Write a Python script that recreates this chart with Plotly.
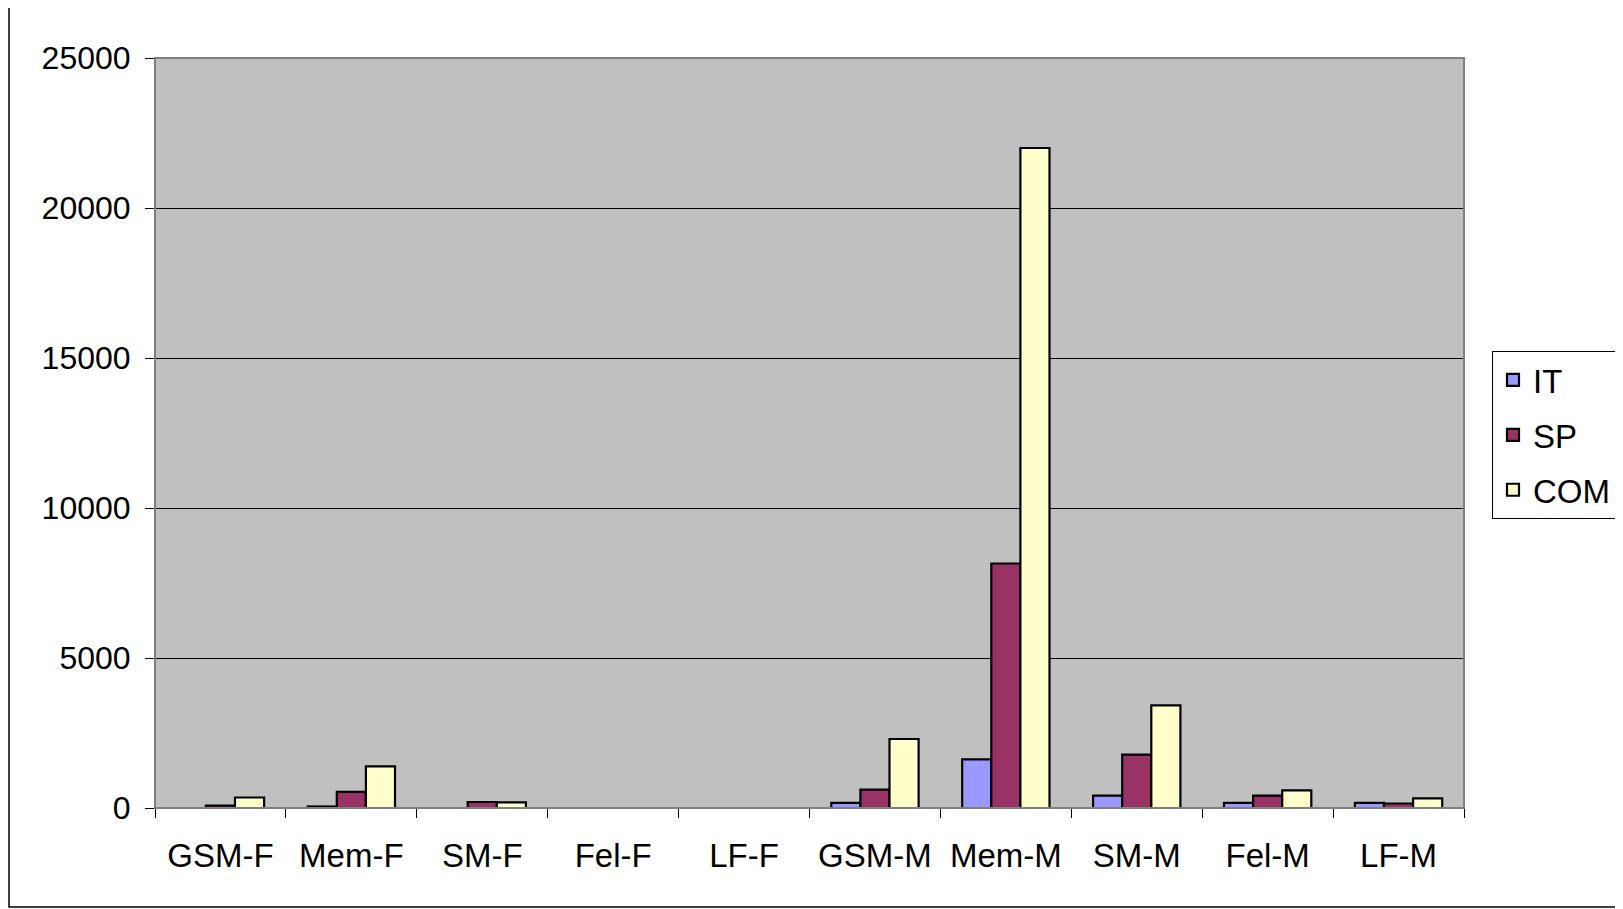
import plotly.graph_objects as go

categories = ["GSM-F", "Mem-F", "SM-F", "Fel-F", "LF-F", "GSM-M", "Mem-M", "SM-M", "Fel-M", "LF-M"]
it_values = [0, 50, 0, 0, 0, 170, 1620, 410, 170, 170]
sp_values = [80, 540, 200, 0, 0, 610, 8150, 1780, 410, 150]
com_values = [350, 1390, 190, 0, 0, 2300, 22000, 3420, 590, 320]
y_ticks = [0, 5000, 10000, 15000, 20000, 25000]

FONT = "Liberation Sans, Arial, sans-serif"
OFF = 8  # page offset of the figure
W, H = 1623, 909
L, T = 155 - OFF, 58 - OFF
R = W - (1464 - OFF)
B = H - (808 - OFF)
pw, ph = W - L - R, H - T - B

fig = go.Figure()
for name, vals, col in [("IT", it_values, "#9999FF"), ("SP", sp_values, "#993366"), ("COM", com_values, "#FFFFCC")]:
    fig.add_trace(go.Bar(x=categories, y=vals, name=name, legendgroup=name,
                         marker=dict(color=col, line=dict(color="black", width=2.2))))

def px_x(v):
    return (v - OFF - L) / pw

def px_y(v):
    return (H - B - (v - OFF)) / ph

fig.update_layout(
    width=W, height=H,
    margin=dict(l=L, r=R, t=T, b=B),
    paper_bgcolor="white", plot_bgcolor="#C0C0C0",
    barmode="group", bargap=0.333, bargroupgap=0,
    font=dict(family=FONT, size=32, color="black"),
    showlegend=True,
    legend=dict(x=px_x(1492), y=px_y(351), xanchor="left", yanchor="top",
                bgcolor="white", bordercolor="black", borderwidth=1,
                font=dict(size=33, family=FONT), itemwidth=30,
                traceorder="grouped", tracegroupgap=9),
    xaxis=dict(type="category", tickson="boundaries", ticks="outside", ticklen=9, tickcolor="black",
               showline=True, linecolor="black", linewidth=1, showgrid=False,
               tickfont=dict(size=33), ticklabelstandoff=18),
    yaxis=dict(range=[0, 25000], tickvals=y_ticks, ticktext=[str(v) for v in y_ticks],
               ticks="outside", ticklen=9, tickcolor="black",
               showline=True, linecolor="black", linewidth=1,
               showgrid=True, gridcolor="black", gridwidth=1, zeroline=False,
               tickfont=dict(size=32), ticklabelstandoff=8),
    shapes=[
        dict(type="rect", xref="paper", yref="paper", x0=0, x1=1, y0=0, y1=1,
             line=dict(color="#808080", width=2), layer="above"),
        dict(type="rect", xref="paper", yref="paper", x0=px_x(9), x1=px_x(1630), y0=px_y(907), y1=px_y(4),
             line=dict(color="black", width=1.5), layer="below"),
    ],
)

fig.write_html("out.html")
